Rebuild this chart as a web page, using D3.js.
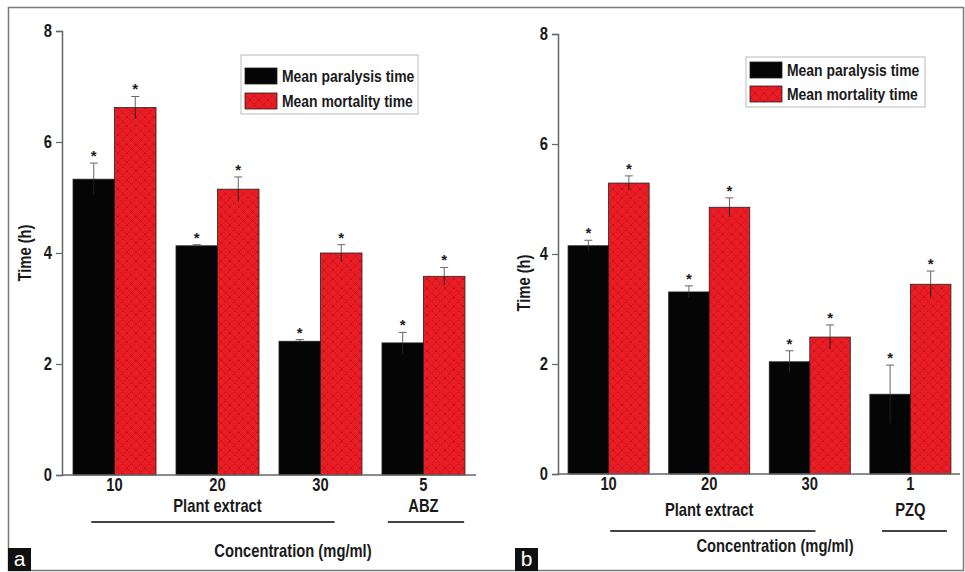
<!DOCTYPE html>
<html>
<head>
<meta charset="utf-8">
<script src="https://cdn.jsdelivr.net/npm/d3@7"></script>
<style>
  body { margin: 0; background: #fff; }
  svg text { font-family: "Liberation Sans", Arial, sans-serif; font-weight: bold; fill: #1a1a1a; }
  svg .panel-tag { font-weight: normal; fill: #fff; }
</style>
</head>
<body>
<svg id="chart" width="965" height="572"></svg>
<script>
// values
const seriesNames = ["Mean paralysis time", "Mean mortality time"]
const yTicks = [0, 2, 4, 6, 8]

const catsA = ["10", "20", "30", "5"]
const paralysisA = [5.33, 4.13, 2.41, 2.38]
const paralysisErrA = [0.29, 0.02, 0.03, 0.19]
const mortalityA = [6.62, 5.15, 4.00, 3.58]
const mortalityErrA = [0.2, 0.22, 0.15, 0.16]
const groupLabelsA = ["Plant extract", "ABZ"]
const groupSpansA = [["10", "30"], ["5", "5"]]

const catsB = ["10", "20", "30", "1"]
const paralysisB = [4.15, 3.31, 2.04, 1.45]
const paralysisErrB = [0.1, 0.11, 0.2, 0.53]
const mortalityB = [5.29, 4.85, 2.49, 3.45]
const mortalityErrB = [0.13, 0.17, 0.22, 0.24]
const groupLabelsB = ["Plant extract", "PZQ"]
const groupSpansB = [["10", "30"], ["1", "1"]]

const NARROW = 0.82 // fake Arial Narrow

const svg = d3.select("#chart")

// squeeze text horizontally around its own x
function squeeze(sel) {
  sel.attr("transform", function () {
    const x = +this.getAttribute("x") || 0
    return `translate(${x},0) scale(${NARROW},1) translate(${-x},0)`
  })
}

// red crosshatch fill
const defs = svg.append("defs")
const pat = defs.append("pattern")
  .attr("id", "hatch")
  .attr("patternUnits", "userSpaceOnUse")
  .attr("width", 9).attr("height", 9)
pat.append("rect").attr("width", 9).attr("height", 9).attr("fill", "#ec1c24")
pat.append("path")
  .attr("d", "M0,0 L9,9 M9,0 L0,9")
  .attr("stroke", "#5a0a0c").attr("stroke-width", 0.6)
  .attr("stroke-dasharray", "1.2,1.2").attr("opacity", 0.8)

const fills = ["#050505", "url(#hatch)"]

// outer frame
svg.append("rect")
  .attr("x", 8.5).attr("y", 7.5).attr("width", 955).attr("height", 563)
  .attr("fill", "none").attr("stroke", "#7a7a7a").attr("stroke-width", 1.5)

function drawPanel(p) {
  const g = svg.append("g")

  const x = d3.scaleBand().domain(p.cats).range([p.x0, p.x1])
    .paddingInner(0.194).paddingOuter(p.outer)
  const xs = d3.scaleBand().domain(seriesNames).range([0, x.bandwidth()])
  const y = d3.scaleLinear().domain([0, 8]).range([p.yBottom, p.yTop])

  // y axis
  const yAxis = g.append("g")
    .attr("transform", `translate(${p.x0},0)`)
    .call(d3.axisLeft(y).tickValues(yTicks).tickSize(6).tickPadding(4))
  yAxis.select(".domain").attr("stroke", "#666").attr("stroke-width", 1.5)
  yAxis.selectAll(".tick line").attr("stroke", "#666").attr("stroke-width", 1.2)
  yAxis.selectAll(".tick text").attr("font-size", 18).attr("fill", "#1a1a1a")
    .style("font-family", null).call(squeeze)

  g.append("text")
    .attr("transform", `translate(${p.titleX},${p.titleY}) rotate(-90) scale(${NARROW},1)`)
    .attr("text-anchor", "middle").attr("font-size", 18)
    .text("Time (h)")

  // bars
  const rows = p.cats.map((c, i) => ({
    cat: c,
    vals: [
      { s: seriesNames[0], v: p.paralysis[i], e: p.paralysisErr[i], f: fills[0] },
      { s: seriesNames[1], v: p.mortality[i], e: p.mortalityErr[i], f: fills[1] }
    ]
  }))
  const grp = g.selectAll(".grp").data(rows).join("g")
    .attr("transform", d => `translate(${x(d.cat)},0)`)

  grp.selectAll("rect").data(d => d.vals).join("rect")
    .attr("x", d => xs(d.s)).attr("width", xs.bandwidth())
    .attr("y", d => y(d.v)).attr("height", d => y(0) - y(d.v))
    .attr("fill", d => d.f).attr("stroke", "#222").attr("stroke-width", 0.8)

  // error bars (lower half sits inside the bar)
  const eb = grp.selectAll(".err").data(d => d.vals).join("g")
    .attr("transform", d => `translate(${xs(d.s) + xs.bandwidth() / 2},0)`)
  eb.append("line")
    .attr("y1", d => y(d.v)).attr("y2", d => y(d.v + d.e))
    .attr("stroke", "#666").attr("stroke-width", 1)
  eb.append("line")
    .attr("y1", d => y(d.v - d.e)).attr("y2", d => y(d.v))
    .attr("stroke", "#222").attr("stroke-width", 1)
  eb.append("line")
    .attr("x1", -4).attr("x2", 4)
    .attr("y1", d => y(d.v + d.e)).attr("y2", d => y(d.v + d.e))
    .attr("stroke", "#666").attr("stroke-width", 1)
  eb.append("text")
    .attr("text-anchor", "middle").attr("font-size", 15)
    .attr("y", d => y(d.v + d.e) - 2)
    .text("*")

  // x axis
  const xAxis = g.append("g")
    .attr("transform", `translate(0,${p.yBottom})`)
    .call(d3.axisBottom(x).tickSize(0).tickPadding(3))
  xAxis.select(".domain").attr("stroke", "#666").attr("stroke-width", 1.5)
    .attr("d", `M${p.x0},0H${p.axisEnd}`)
  xAxis.selectAll(".tick text").attr("font-size", 18).attr("fill", "#1a1a1a")
    .style("font-family", null).call(squeeze)

  // treatment group labels with underline
  p.groupLabels.forEach((lab, i) => {
    const [a, b] = p.groupSpans[i]
    const cx = (x(a) + x(b) + x.bandwidth()) / 2
    g.append("text").attr("x", cx).attr("y", p.groupY)
      .attr("text-anchor", "middle").attr("font-size", 18).text(lab)
      .call(squeeze)
    g.append("line")
      .attr("x1", x(a) + x.bandwidth() * p.lines[i][0])
      .attr("x2", x(b) + x.bandwidth() * p.lines[i][1])
      .attr("y1", p.lineY).attr("y2", p.lineY)
      .attr("stroke", "#444").attr("stroke-width", 2)
  })

  g.append("text").attr("x", p.concX).attr("y", p.concY)
    .attr("text-anchor", "middle").attr("font-size", 18)
    .text("Concentration (mg/ml)").call(squeeze)

  // legend
  const lg = g.append("g").attr("transform", `translate(${p.legX},${p.legY})`)
  lg.append("rect").attr("width", p.legW).attr("height", p.legH)
    .attr("fill", "#fff").attr("stroke", "#bbb").attr("stroke-width", 1)
  seriesNames.forEach((s, i) => {
    lg.append("rect").attr("x", 4).attr("y", p.legPad + i * p.legStep)
      .attr("width", 32).attr("height", 16)
      .attr("fill", fills[i]).attr("stroke", "#222").attr("stroke-width", 0.8)
    lg.append("text").attr("x", 41).attr("y", p.legPad + 14 + i * p.legStep)
      .attr("font-size", 17).text(s).call(squeeze)
  })

  // panel tag
  g.append("rect").attr("x", p.tagX).attr("y", 548).attr("width", 23).attr("height", 23)
    .attr("fill", "#111")
  g.append("text").attr("class", "panel-tag").attr("x", p.tagX + 11.5).attr("y", 566)
    .attr("text-anchor", "middle").attr("font-size", 21).text(p.tag)
}

drawPanel({
  tag: "a", tagX: 8,
  cats: catsA, paralysis: paralysisA, paralysisErr: paralysisErrA,
  mortality: mortalityA, mortalityErr: mortalityErrA,
  groupLabels: groupLabelsA, groupSpans: groupSpansA,
  x0: 62, x1: 476, axisEnd: 476, outer: 0.107,
  yBottom: 475, yTop: 31,
  titleX: 31, titleY: 253,
  groupY: 512, lineY: 522, lines: [[0.22, 0.67], [0.07, 0.99]],
  concX: 293, concY: 557,
  legX: 241, legY: 55, legW: 177, legH: 59, legPad: 13, legStep: 25
})

drawPanel({
  tag: "b", tagX: 515,
  cats: catsB, paralysis: paralysisB, paralysisErr: paralysisErrB,
  mortality: mortalityB, mortalityErr: mortalityErrB,
  groupLabels: groupLabelsB, groupSpans: groupSpansB,
  x0: 558, x1: 961, axisEnd: 960, outer: 0.1,
  yBottom: 474, yTop: 34,
  titleX: 530, titleY: 283,
  groupY: 516, lineY: 531, lines: [[0.52, 0.57], [0.15, 0.95]],
  concX: 775, concY: 552,
  legX: 746, legY: 57, legW: 179, legH: 50, legPad: 5, legStep: 24
})
</script>
</body>
</html>
